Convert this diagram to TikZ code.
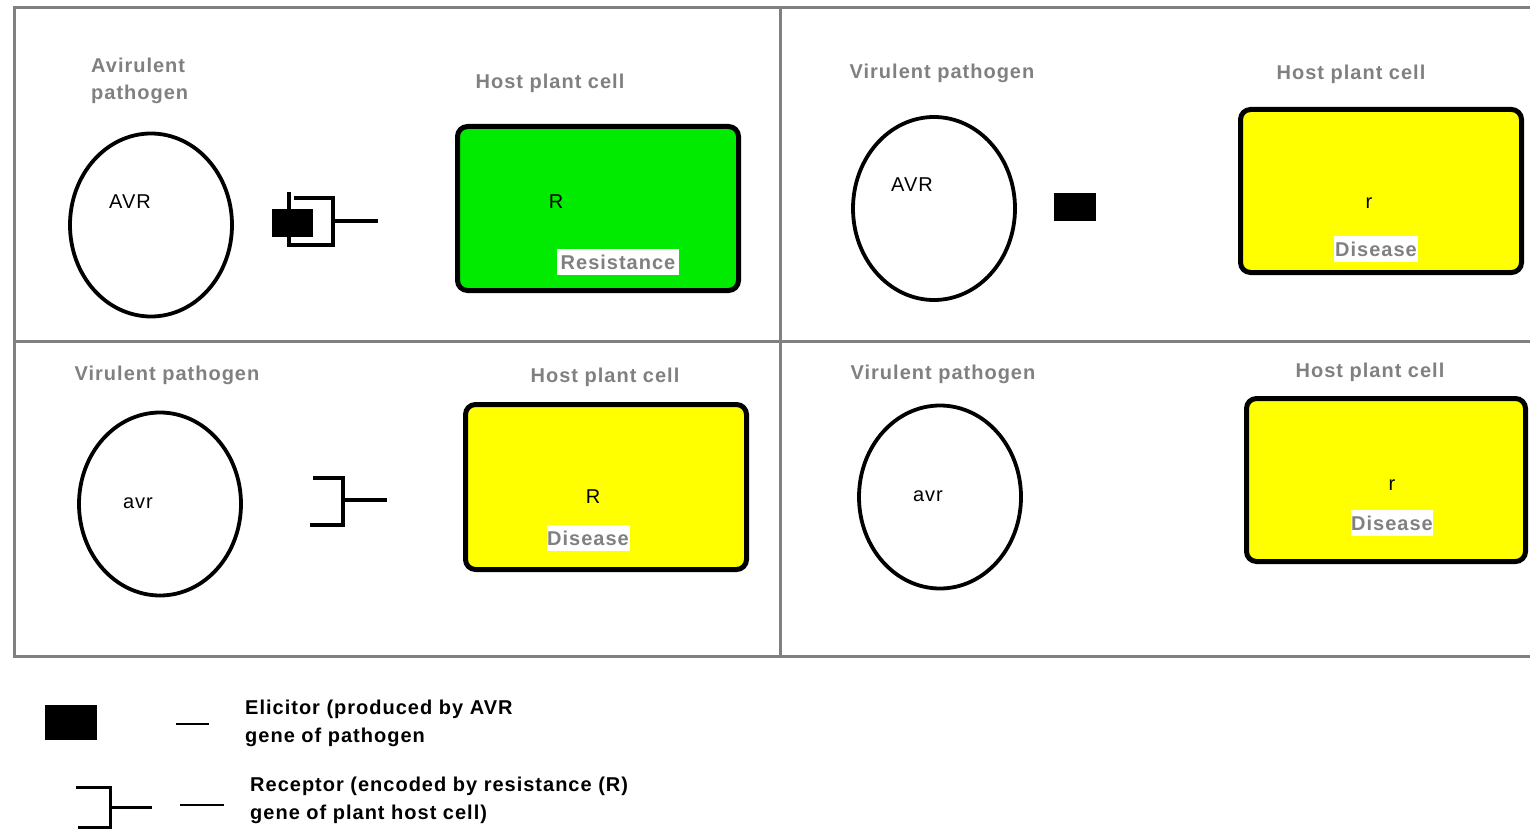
\documentclass[tikz,border=0pt]{standalone}
\usepackage{fontspec}
\setmainfont[LetterSpace=5]{Liberation Sans}
\usetikzlibrary{shapes.geometric}
\definecolor{labgray}{RGB}{128,128,128}
\definecolor{framegray}{RGB}{128,128,128}
\definecolor{resgreen}{RGB}{0,235,0}
\definecolor{disyellow}{RGB}{255,255,0}
\tikzset{
  lbl/.style={text=labgray, font=\bfseries\fontsize{20}{27}\selectfont, inner sep=0},
  gene/.style={font=\fontsize{20}{24}\selectfont, inner sep=0},
  pathogen/.style={ellipse, draw=black, line width=3.8, minimum width=162, minimum height=183, inner sep=0},
  cell/.style={rectangle, draw=black, line width=5, rounded corners=10, inner sep=0},
  outcome/.style={fill=white, text=labgray, font=\bfseries\fontsize{20}{24}\selectfont, inner sep=0, minimum height=26},
  elic/.style={fill=black, inner sep=0, draw=none},
  recep/.style={line width=4, line cap=rect},
  frameline/.style={draw=framegray, line width=3},
  legtext/.style={font=\bfseries\fontsize{20}{28}\selectfont, inner sep=0, align=left, anchor=west},
  dashline/.style={line width=2.5},
}
\begin{document}
\begin{tikzpicture}[x=1pt,y=-1pt]
\useasboundingbox (0,0) rectangle (1530,829);
% frame
\draw[frameline] (1530,8) -- (14,8) -- (14,656) -- (1530,656);
\draw[frameline] (14,341) -- (1530,341);
\draw[frameline] (780,8) -- (780,656);

% ---------- top-left panel ----------
\node[lbl, align=left, anchor=west] (tl-p) at (91,80.5) {Avirulent\\pathogen};
\node[lbl] (tl-h) at (550,83) {Host plant cell};
\node[pathogen] (tl-e) at (151,225) {};
\node[gene] (tl-g) at (130,202) {AVR};
\node[cell, fill=resgreen, minimum width=281, minimum height=164] (tl-c) at (598,208.5) {};
\node[gene] (tl-r) at (556,202) {R};
\node[outcome, minimum width=122] (tl-o) at (618,262) {Resistance};
\node[elic, minimum width=41, minimum height=28] (tl-el) at (292.5,223) {};
\coordinate (tl-s) at (376,221);
\draw[recep] (289,194) -- (289,245) -- (333,245) -- (333,198) -- (296,198);
\draw[recep] (333,221) -- (tl-s);

% ---------- top-right panel ----------
\node[lbl] (tr-p) at (942,73) {Virulent pathogen};
\node[lbl] (tr-h) at (1351,74) {Host plant cell};
\node[pathogen] (tr-e) at (934,208.5) {};
\node[gene] (tr-g) at (912,185) {AVR};
\node[elic, minimum width=42, minimum height=28] (tr-el) at (1075,207) {};
\node[cell, fill=disyellow, minimum width=281, minimum height=163] (tr-c) at (1381,191) {};
\node[gene] (tr-r) at (1369,203) {r};
\node[outcome, minimum width=84] (tr-o) at (1376,249) {Disease};

% ---------- bottom-left panel ----------
\node[lbl] (bl-p) at (167,375) {Virulent pathogen};
\node[lbl] (bl-h) at (605,377) {Host plant cell};
\node[pathogen] (bl-e) at (160,504) {};
\node[gene] (bl-g) at (138,503) {avr};
\coordinate (bl-s) at (385,500);
\draw[recep] (315,478) -- (343,478) -- (343,525) -- (312,525);
\draw[recep] (343,500) -- (bl-s);
\node[cell, fill=disyellow, minimum width=281, minimum height=165] (bl-c) at (606,487) {};
\node[gene] (bl-r) at (593,497) {R};
\node[outcome, minimum width=83] (bl-o) at (588,538) {Disease};

% ---------- bottom-right panel ----------
\node[lbl] (br-p) at (943,374) {Virulent pathogen};
\node[lbl] (br-h) at (1370,372) {Host plant cell};
\node[pathogen] (br-e) at (940,497) {};
\node[gene] (br-g) at (928,496) {avr};
\node[cell, fill=disyellow, minimum width=279, minimum height=163] (br-c) at (1386,480) {};
\node[gene] (br-r) at (1392,485) {r};
\node[outcome, minimum width=82] (br-o) at (1392,523) {Disease};

% ---------- legend ----------
\node[elic, minimum width=52, minimum height=35] (lg-el) at (71,722.5) {};
\coordinate (lg-d1a) at (176,724);
\coordinate (lg-d1b) at (209,724);
\draw[dashline] (lg-d1a) -- (lg-d1b);
\node[legtext] (lg-t1) at (245,723) {Elicitor (produced by AVR\\gene of pathogen};
\draw[line width=3] (76,787) -- (110,787) -- (110,827) -- (78,827);
\draw[line width=3] (110,807) -- (152,807);
\coordinate (lg-d2a) at (180,805);
\coordinate (lg-d2b) at (224,805);
\draw[dashline] (lg-d2a) -- (lg-d2b);
\node[legtext] (lg-t2) at (250,800) {Receptor (encoded by resistance (R)\\gene of plant host cell)};
\end{tikzpicture}
\end{document}
